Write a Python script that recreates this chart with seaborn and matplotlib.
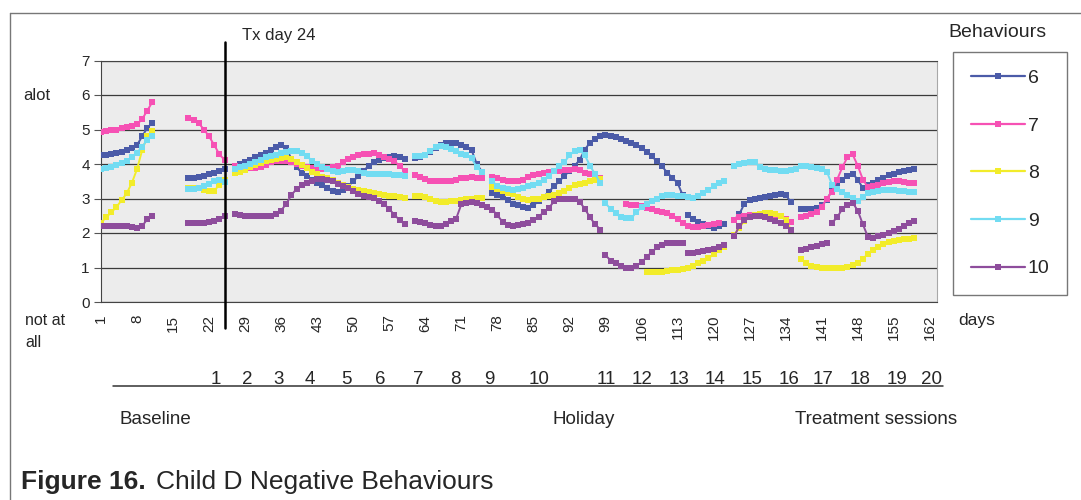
import matplotlib
matplotlib.use("Agg")
import matplotlib.pyplot as plt
from matplotlib.lines import Line2D
import pandas as pd
import seaborn as sns

# Daily ratings (0 = not at all, 7 = alot); each tuple is (first day, values), gaps = no data
b6_segments = [
    (1, [4.25, 4.27, 4.3, 4.32, 4.35, 4.4, 4.45, 4.55, 4.8, 5.05, 5.2]),
    (18, [3.6, 3.6, 3.62, 3.65, 3.7, 3.75, 3.8, 3.85]),
    (27, [3.95, 4.0, 4.05, 4.12, 4.19, 4.25, 4.33, 4.42, 4.5, 4.55, 4.45, 4.15, 3.9, 3.75, 3.65,
          3.55, 3.45, 3.38, 3.3, 3.22, 3.2, 3.25, 3.35, 3.5, 3.65, 3.8, 3.95, 4.05, 4.12, 4.17,
          4.2, 4.22, 4.2, 4.15]),
    (62, [4.17, 4.2, 4.27, 4.35, 4.45, 4.55, 4.62, 4.62, 4.6, 4.55, 4.5, 4.4, 4.0, 3.78]),
    (77, [3.15, 3.1, 3.05, 2.95, 2.85, 2.8, 2.75, 2.72, 2.8, 2.92, 3.05, 3.2, 3.35, 3.5, 3.65,
          3.8, 3.95, 4.12, 4.42, 4.62, 4.73, 4.8, 4.85, 4.82, 4.78, 4.72, 4.68, 4.62, 4.55, 4.45,
          4.35, 4.22, 4.08, 3.93, 3.75, 3.6, 3.45, 3.1]),
    (115, [2.52, 2.42, 2.33, 2.27, 2.2, 2.15, 2.2, 2.25]),
    (124, [2.38, 2.55, 2.85, 2.95, 3.0, 3.02, 3.05, 3.08, 3.1, 3.13, 3.1, 2.9]),
    (137, [2.7, 2.7, 2.7, 2.72, 2.8, 2.95, 3.25, 3.42, 3.55, 3.65, 3.72, 3.55, 3.3, 3.38, 3.45,
           3.55, 3.6, 3.67, 3.72, 3.77, 3.8, 3.83, 3.85]),
]
b7_segments = [
    (1, [4.92, 4.95, 4.98, 5.0, 5.03, 5.06, 5.1, 5.15, 5.3, 5.55, 5.8]),
    (18, [5.33, 5.28, 5.18, 5.0, 4.8, 4.55, 4.28, 4.12]),
    (27, [3.94, 3.9, 3.88, 3.88, 3.88, 3.92, 3.98, 4.05, 4.08, 4.1, 4.1, 4.05, 4.0, 3.95, 3.9,
          3.87, 3.85, 3.85, 3.87, 3.9, 3.95, 4.05, 4.15, 4.2, 4.25, 4.28, 4.3, 4.32, 4.27, 4.2,
          4.15, 4.08, 3.95, 3.8]),
    (62, [3.69, 3.62, 3.56, 3.52, 3.5, 3.5, 3.5, 3.5, 3.55, 3.59, 3.6, 3.63, 3.6, 3.59]),
    (77, [3.62, 3.59, 3.55, 3.5, 3.5, 3.5, 3.55, 3.62, 3.68, 3.72, 3.75, 3.77, 3.79, 3.81, 3.83,
          3.84, 3.86, 3.84, 3.75, 3.7, 3.65, 3.6]),
    (103, [2.85, 2.82, 2.8, 2.77, 2.73, 2.69, 2.65, 2.6, 2.57, 2.5, 2.4, 2.3, 2.2, 2.18, 2.18,
           2.2, 2.23, 2.27, 2.3]),
    (124, [2.38, 2.45, 2.5, 2.52, 2.52, 2.52, 2.52, 2.5, 2.5, 2.48, 2.42, 2.33]),
    (137, [2.45, 2.5, 2.55, 2.6, 2.75, 3.0, 3.2, 3.55, 3.9, 4.2, 4.28, 3.95, 3.55, 3.32, 3.35,
           3.4, 3.45, 3.48, 3.5, 3.5, 3.48, 3.45, 3.45]),
]
b8_segments = [
    (1, [2.3, 2.45, 2.6, 2.75, 2.95, 3.15, 3.45, 3.85, 4.4, 4.8, 4.95]),
    (18, [3.3, 3.3, 3.3, 3.25, 3.22, 3.22, 3.4, 3.55]),
    (27, [3.75, 3.78, 3.83, 3.9, 3.97, 4.04, 4.08, 4.12, 4.14, 4.17, 4.19, 4.15, 4.06, 3.97, 3.88,
          3.78, 3.7, 3.63, 3.58, 3.55, 3.45, 3.38, 3.32, 3.27, 3.24, 3.22, 3.2, 3.15, 3.12, 3.1,
          3.08, 3.06, 3.04, 3.02]),
    (62, [3.06, 3.06, 3.05, 3.0, 2.93, 2.91, 2.91, 2.92, 2.94, 2.96, 2.98, 3.0, 3.01, 3.01]),
    (77, [3.33, 3.28, 3.22, 3.17, 3.12, 3.05, 3.0, 2.96, 2.98, 3.0, 3.04, 3.07, 3.1, 3.16, 3.22,
          3.3, 3.38, 3.42, 3.45, 3.5, 3.54, 3.57]),
    (107, [0.87, 0.87, 0.87, 0.88, 0.9, 0.92, 0.94, 0.96, 1.0, 1.05, 1.12, 1.18, 1.27, 1.38, 1.5,
           1.6]),
    (124, [1.95, 2.15, 2.35, 2.45, 2.52, 2.56, 2.57, 2.57, 2.55, 2.48, 2.38, 2.1]),
    (137, [1.25, 1.12, 1.05, 1.02, 1.0, 1.0, 1.0, 1.0, 1.0, 1.02, 1.06, 1.12, 1.25, 1.4, 1.52,
           1.6, 1.68, 1.73, 1.77, 1.8, 1.82, 1.84, 1.86]),
]
b9_segments = [
    (1, [3.85, 3.88, 3.92, 3.96, 4.03, 4.1, 4.2, 4.33, 4.5, 4.7, 4.82]),
    (18, [3.27, 3.27, 3.3, 3.35, 3.42, 3.5, 3.55, 3.48]),
    (27, [3.85, 3.9, 3.95, 4.0, 4.07, 4.13, 4.19, 4.23, 4.27, 4.31, 4.35, 4.38, 4.37, 4.33, 4.22,
          4.1, 4.0, 3.92, 3.85, 3.8, 3.78, 3.8, 3.82, 3.83, 3.8, 3.75, 3.72, 3.7, 3.72, 3.72,
          3.7, 3.68, 3.67, 3.66]),
    (62, [4.22, 4.24, 4.27, 4.38, 4.48, 4.52, 4.5, 4.43, 4.37, 4.3, 4.25, 4.17, 3.9, 3.78]),
    (77, [3.5, 3.37, 3.3, 3.27, 3.25, 3.27, 3.3, 3.35, 3.4, 3.45, 3.55, 3.65, 3.8, 3.93, 4.05,
          4.25, 4.38, 4.42, 4.25, 3.95, 3.7, 3.45]),
    (99, [2.86, 2.7, 2.57, 2.45, 2.43, 2.43, 2.6, 2.75, 2.85, 2.93, 3.0, 3.06, 3.1, 3.1, 3.08,
          3.06, 3.04, 3.01, 3.08, 3.15, 3.25, 3.35, 3.45, 3.5]),
    (124, [3.95, 4.0, 4.03, 4.05, 4.07, 3.9, 3.85, 3.83, 3.82, 3.8, 3.8, 3.82, 3.85]),
    (137, [3.93, 3.93, 3.9, 3.88, 3.85, 3.78, 3.4, 3.28, 3.2, 3.1, 3.02, 2.93, 3.05, 3.15, 3.2,
           3.23, 3.25, 3.25, 3.25, 3.23, 3.22, 3.2, 3.2]),
]
b10_segments = [
    (1, [2.2, 2.2, 2.2, 2.2, 2.2, 2.2, 2.18, 2.15, 2.2, 2.4, 2.5]),
    (18, [2.3, 2.3, 2.3, 2.3, 2.32, 2.35, 2.4, 2.49]),
    (27, [2.54, 2.52, 2.5, 2.5, 2.5, 2.5, 2.5, 2.5, 2.55, 2.65, 2.85, 3.1, 3.28, 3.38, 3.45,
          3.52, 3.56, 3.56, 3.55, 3.5, 3.42, 3.35, 3.3, 3.22, 3.14, 3.08, 3.05, 3.01, 2.92, 2.83,
          2.7, 2.52, 2.38, 2.25]),
    (62, [2.35, 2.32, 2.28, 2.23, 2.19, 2.2, 2.25, 2.35, 2.42, 2.83, 2.87, 2.89, 2.87, 2.82, 2.76,
          2.68, 2.52, 2.32, 2.23, 2.2, 2.22, 2.25, 2.3, 2.38, 2.47, 2.6, 2.72, 2.92, 2.98, 3.0,
          3.0, 2.98, 2.9, 2.7, 2.45, 2.25, 2.1]),
    (99, [1.36, 1.2, 1.12, 1.05, 0.98, 1.0, 1.05, 1.15, 1.3, 1.45, 1.58, 1.65, 1.7, 1.72, 1.72,
          1.72]),
    (115, [1.41, 1.43, 1.45, 1.48, 1.52, 1.55, 1.6, 1.65]),
    (124, [1.9, 2.2, 2.38, 2.45, 2.48, 2.48, 2.45, 2.4, 2.35, 2.28, 2.2, 2.1]),
    (137, [1.52, 1.55, 1.58, 1.62, 1.68, 1.72]),
    (143, [2.3, 2.45, 2.7, 2.8, 2.88, 2.65, 2.25, 1.88, 1.86, 1.9, 1.95, 2.0, 2.05, 2.12, 2.2,
           2.28, 2.35]),
]

behaviours = ["6", "7", "8", "9", "10"]
colours = ["#4B5BA8", "#F651B4", "#F2EC2A", "#72DCF2", "#8E4D9C"]
day_ticks = [1, 8, 15, 22, 29, 36, 43, 50, 57, 64, 71, 78, 85, 92, 99, 106, 113, 120, 127,
             134, 141, 148, 155, 162]
session_labels = [str(i) for i in range(1, 21)]
session_days = [23.3, 29.4, 35.4, 41.6, 48.6, 55.2, 62.6, 69.8, 76.4, 86.1, 99.1, 106.1,
                113.3, 120.3, 127.5, 134.6, 141.2, 148.4, 155.6, 162.4]
tx_day = 25.0

rows = []
for name, segs in zip(behaviours, [b6_segments, b7_segments, b8_segments, b9_segments, b10_segments]):
    for k, (start, vals) in enumerate(segs):
        for i, v in enumerate(vals):
            rows.append({"day": start + i, "score": v, "behaviour": name, "seg": f"{name}-{k}"})
df = pd.DataFrame(rows)

sns.set_style("white")
plt.rcParams["font.family"] = ["Liberation Sans", "DejaVu Sans"]

fig = plt.figure(figsize=(10.81, 5.0), dpi=100)
ax = fig.add_axes([0.0934, 0.396, 0.7734, 0.483])
ax.set_facecolor("#ECECEC")

sns.lineplot(data=df, x="day", y="score", hue="behaviour", hue_order=behaviours,
             palette=colours, units="seg", estimator=None, marker="s", markersize=4.2,
             markeredgewidth=0, linewidth=1.4, legend=False, ax=ax, zorder=3)

ax.set_xlim(1, 163.4)
ax.set_ylim(0, 7)
ax.set_yticks(range(8))
ax.grid(axis="y", color="#3a3a3a", linewidth=0.9)
ax.grid(axis="x", visible=False)
ax.set_axisbelow(True)
ax.set_xticks(day_ticks)
ax.set_xticklabels([str(d) for d in day_ticks], rotation=90)
ax.tick_params(axis="x", length=0, pad=9, labelsize=11)
ax.tick_params(axis="y", length=5, width=0.8, color="#555555", pad=3, labelsize=11, left=True)
ax.set_xlabel("")
ax.set_ylabel("")
for side in ["left", "bottom", "top"]:
    ax.spines[side].set_color("#444444")
ax.spines["right"].set_color("#a8a8a8")

# treatment start marker
ax.axvline(tx_day, ymin=-0.75 / 7, ymax=7.55 / 7, color="black", lw=1.8, clip_on=False, zorder=5)

fig.text(242 / 1081, 0.92, "Tx day 24", fontsize=12, va="baseline")
fig.text(23 / 1081, 0.80, "alot", fontsize=12, va="baseline")
fig.text(25 / 1081, 0.35, "not at", fontsize=11.5, va="baseline")
fig.text(25 / 1081, 0.306, "all", fontsize=11.5, va="baseline")
fig.text(958 / 1081, 0.35, "days", fontsize=12.5, va="baseline")
fig.text(948 / 1081, 0.926, "Behaviours", fontsize=14, va="baseline")

# session numbers under the day axis
trans = ax.get_xaxis_transform()
for lab, d in zip(session_labels, session_days):
    ax.text(d, (302 - 384) / 241.5, lab, transform=trans, ha="center", va="baseline",
            fontsize=13.5, clip_on=False)
fig.add_artist(Line2D([113 / 1081, 943 / 1081], [1 - 386 / 500] * 2, color="#333333", lw=1.1))

fig.text(120 / 1081, 1 - 424 / 500, "Baseline", fontsize=13.5, va="baseline")
fig.text(552 / 1081, 1 - 424 / 500, "Holiday", fontsize=13.5, va="baseline")
fig.text(795 / 1081, 1 - 424 / 500, "Treatment sessions", fontsize=13.5, va="baseline")

fig.text(21 / 1081, 1 - 489 / 500, "Figure 16.", fontsize=19, fontweight="bold", va="baseline")
fig.text(156 / 1081, 1 - 489 / 500, "Child D Negative Behaviours", fontsize=19, va="baseline")

# outer frame (top and left edges)
fig.add_artist(Line2D([10 / 1081, 1.0], [1 - 13 / 500] * 2, color="#777777", lw=1))
fig.add_artist(Line2D([10 / 1081] * 2, [0.0, 1 - 13 / 500], color="#777777", lw=1))

handles = [Line2D([], [], color=c, lw=1.6, marker="s", markersize=4.5, markeredgewidth=0)
           for c in colours]
leg = fig.legend(handles, behaviours, loc="upper left", bbox_to_anchor=(953 / 1081, 1 - 52 / 500),
                 frameon=True, fancybox=False, edgecolor="#555555", fontsize=14, numpoints=1,
                 handlelength=2.8, handletextpad=0.15, labelspacing=1.54, borderpad=0.9,
                 borderaxespad=0)
leg.get_frame().set_linewidth(1.0)

fig.savefig("out.png", dpi=100)
